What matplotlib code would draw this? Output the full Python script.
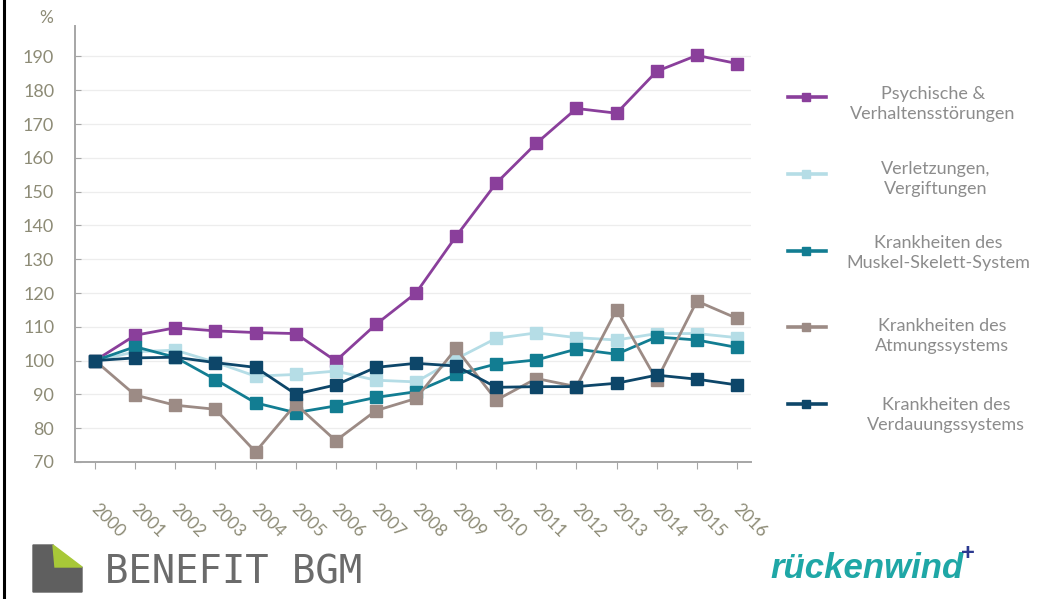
import matplotlib as mpl
mpl.use('agg')
import matplotlib.pyplot as plt
import matplotlib.transforms as mtransforms
from matplotlib.lines import Line2D
from matplotlib.patches import Polygon

years = list(range(2000, 2017))
psych = [100, 107.5, 109.7, 108.8, 108.3, 108.0, 99.9, 110.7, 120.0, 136.8, 152.5, 164.3, 174.6, 173.2, 185.6, 190.3, 187.9]
verletz = [100, 102.6, 103.1, 99.5, 95.4, 95.9, 96.9, 94.2, 93.7, 100.5, 106.6, 108.2, 106.8, 106.1, 108.0, 108.0, 106.8]
muskel = [100, 104.1, 101.0, 94.4, 87.5, 84.6, 86.6, 89.1, 90.8, 95.9, 99.0, 100.2, 103.4, 101.9, 107.0, 106.1, 103.9]
atmung = [100, 89.8, 86.8, 85.6, 73.0, 87.1, 76.3, 85.2, 88.8, 103.6, 88.3, 94.7, 92.3, 115.1, 94.2, 117.6, 112.5]
verdau = [100, 100.8, 101.0, 99.4, 98.0, 90.1, 92.8, 98.0, 99.2, 98.4, 92.1, 92.3, 92.3, 93.3, 95.7, 94.5, 92.8]

labels = ["Psychische &\nVerhaltensstörungen", "Verletzungen,\nVergiftungen",
          "Krankheiten des\nMuskel-Skelett-System", "Krankheiten des\nAtmungssystems",
          "Krankheiten des\nVerdauungssystems"]
yticks = list(range(70, 200, 10))

colors = ['#8a3f9b', '#b5dde6', '#127d92', '#9c8b85', '#0d4669']
series = [psych, verletz, muskel, atmung, verdau]

plt.rcParams['font.family'] = ['Lato', 'DejaVu Sans']
W, H = 1042, 599
fig = plt.figure(figsize=(W / 100, H / 100), dpi=100)
ax = fig.add_axes([75 / W, 1 - 462 / H, 676 / W, 436 / H])

for vals, c in zip(series, colors):
    ax.plot(years, vals, color=c, lw=2.0, marker='s', markersize=8,
            markerfacecolor=c, markeredgecolor=c)

ax.set_xlim(1999.5, 2016.35)
ax.set_ylim(70, 199)
ax.set_yticks(yticks)
ax.set_xticks(years)
ax.grid(True, axis='y', color='#ededed', lw=0.9)
ax.set_axisbelow(True)
for s in ['top', 'right']:
    ax.spines[s].set_visible(False)
for s in ['left', 'bottom']:
    ax.spines[s].set_color('#a6a6a6')
    ax.spines[s].set_linewidth(1.4)

tick_col = '#8d8b76'
ax.tick_params(axis='y', direction='in', length=4, color='#a6a6a6', pad=15,
               labelsize=13, labelcolor=tick_col)
ax.tick_params(axis='x', direction='out', length=5, color='#a6a6a6', pad=23,
               labelsize=12.5, labelcolor=tick_col)
ax.set_xticklabels([str(y) for y in years])
shift = mtransforms.ScaledTranslation(0.04, 0, fig.dpi_scale_trans)
for lbl in ax.get_xticklabels():
    lbl.set_rotation(-45)
    lbl.set_ha('left')
    lbl.set_va('top')
    lbl.set_rotation_mode('anchor')
    lbl.set_transform(lbl.get_transform() + shift)

fig.text(46 / W, 1 - 18 / H, '%', color=tick_col, fontsize=12.5, ha='center', va='center')

# legend, drawn by hand to get centred two-line labels
line_y = [97, 174, 251, 327, 404]
text_y = [104, 179, 253, 336, 415]
text_x = [933, 936, 938, 942, 946]
for c, lab, ly, ty, tx in zip(colors, labels, line_y, text_y, text_x):
    fig.add_artist(Line2D([788 / W, 826 / W], [1 - ly / H, 1 - ly / H], color=c, lw=2.6))
    fig.add_artist(Line2D([806 / W], [1 - ly / H], color=c, marker='s', markersize=6))
    fig.text(tx / W, 1 - ty / H, lab, color='#8c8c8c', fontsize=13, ha='center',
             va='center', multialignment='center', linespacing=1.35)

# logos
fig.add_artist(Polygon([(33 / W, 1 - 545 / H), (53 / W, 1 - 545 / H), (55 / W, 1 - 567 / H),
                        (82 / W, 1 - 567 / H), (82 / W, 1 - 592 / H), (33 / W, 1 - 592 / H)],
                       closed=True, color='#5f5f5f', transform=fig.transFigure))
fig.add_artist(Polygon([(53 / W, 1 - 545 / H), (82 / W, 1 - 567 / H), (55 / W, 1 - 567 / H)],
                       closed=True, color='#a8c838', transform=fig.transFigure))
fig.text(105 / W, 1 - 583 / H, 'BENEFIT BGM', family='DejaVu Sans Mono', fontsize=28,
         color='#6b6b6b', ha='left', va='baseline')
fig.text(770 / W, 1 - 578 / H, 'rückenwind', family='Liberation Sans', fontsize=25,
         style='italic', weight='bold', color='#1fa7a6', ha='left', va='baseline')
fig.text(968 / W, 1 - 554 / H, '+', family='Liberation Sans', fontsize=17,
         weight='bold', color='#2b3990', ha='center', va='center')

fig.add_artist(Line2D([3.5 / W, 3.5 / W], [0, 1], color='black', lw=2.2))

plt.savefig('out.png', dpi=100)
